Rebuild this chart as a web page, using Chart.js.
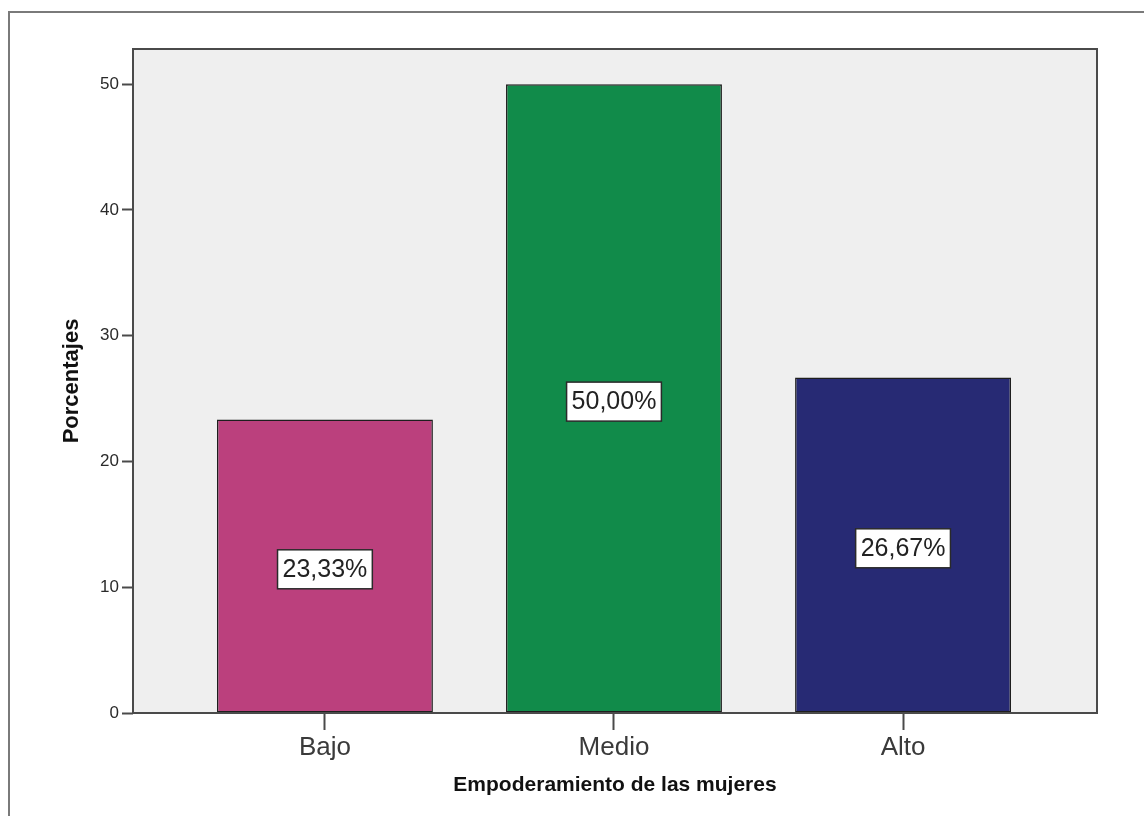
<!DOCTYPE html>
<html>
<head>
<meta charset="utf-8">
<style>
  html, body { margin: 0; padding: 0; background: #ffffff; }
  #wrap { position: relative; width: 1144px; height: 816px; }
  canvas { display: block; }
</style>
<script src="https://cdn.jsdelivr.net/npm/chart.js@4.4.1/dist/chart.umd.min.js"></script>
</head>
<body>
<div id="wrap"><canvas id="chart" width="1144" height="816"></canvas></div>
<script>
// Categories and percentages
const categories = ['Bajo', 'Medio', 'Alto'];
const percentages = [23.33, 50.00, 26.67];
const barColors = ['#bb407d', '#118b4a', '#272a74'];
const yTickValues = [0, 10, 20, 30, 40, 50];
const yAxisMax = 52.8;
const xTitle = 'Empoderamiento de las mujeres';
const yTitle = 'Porcentajes';

const FONT = '"Liberation Sans", Arial, sans-serif';

// Category positions on a numeric axis, with margin either side of the outer bars
const xPositions = categories.map((c, i) => i);
const xAxisMin = -0.664;
const xAxisMax = 2.671;

// Page frame, plot background and plot border
const framePlugin = {
  id: 'frame',
  beforeDraw(chart) {
    const { ctx, chartArea: a } = chart;
    ctx.save();
    ctx.strokeStyle = '#7a7a7a';
    ctx.lineWidth = 2;
    ctx.beginPath();
    ctx.moveTo(9, 816);
    ctx.lineTo(9, 12);
    ctx.lineTo(1144, 12);
    ctx.stroke();
    ctx.fillStyle = '#efefef';
    ctx.fillRect(a.left, a.top, a.right - a.left, a.bottom - a.top);
    ctx.restore();
  },
  afterDatasetsDraw(chart) {
    const { ctx, chartArea: a } = chart;
    ctx.save();
    ctx.strokeStyle = '#4a4a4a';
    ctx.lineWidth = 2;
    ctx.strokeRect(a.left, a.top, a.right - a.left, a.bottom - a.top);
    ctx.restore();
  }
};

// Boxed percentage labels in the middle of each bar
const valueLabelPlugin = {
  id: 'valueLabels',
  afterDatasetsDraw(chart) {
    const { ctx } = chart;
    const meta = chart.getDatasetMeta(0);
    const yScale = chart.scales.y;
    ctx.save();
    ctx.font = '25px ' + FONT;
    ctx.textAlign = 'center';
    ctx.textBaseline = 'middle';
    meta.data.forEach((bar, i) => {
      const v = percentages[i];
      const text = v.toFixed(2).replace('.', ',') + '%';
      const cx = bar.x;
      const cy = yScale.getPixelForValue(v / 2) + 3;
      const w = ctx.measureText(text).width + 10;
      const h = 39;
      ctx.fillStyle = '#ffffff';
      ctx.fillRect(cx - w / 2, cy - h / 2, w, h);
      ctx.strokeStyle = '#2a2a2a';
      ctx.lineWidth = 1.5;
      ctx.strokeRect(cx - w / 2, cy - h / 2, w, h);
      ctx.fillStyle = '#222222';
      ctx.fillText(text, cx, cy + 1);
    });
    ctx.restore();
  }
};

new Chart(document.getElementById('chart'), {
  type: 'bar',
  data: {
    datasets: [{
      data: xPositions.map((x, i) => ({ x: x, y: percentages[i] })),
      backgroundColor: barColors,
      borderColor: '#1e1e1e',
      borderWidth: 1.5,
      borderSkipped: false,
      categoryPercentage: 1.0,
      barPercentage: 0.747
    }]
  },
  options: {
    responsive: false,
    animation: false,
    layout: { padding: { top: 49, right: 47, left: 0, bottom: 0 } },
    plugins: {
      legend: { display: false },
      tooltip: { enabled: false }
    },
    scales: {
      x: {
        type: 'linear',
        min: xAxisMin,
        max: xAxisMax,
        offset: false,
        afterFit(scale) { scale.height = 103; },
        afterBuildTicks(scale) {
          scale.ticks = xPositions.map(v => ({ value: v }));
        },
        grid: {
          offset: false,
          drawOnChartArea: false,
          drawTicks: true,
          tickLength: 17,
          tickWidth: 2,
          tickColor: '#4a4a4a'
        },
        border: { display: false },
        ticks: {
          padding: 2,
          color: '#3a3a3a',
          font: { family: FONT, size: 26 },
          callback: (value) => categories[value]
        },
        title: {
          display: true,
          text: xTitle,
          color: '#111111',
          font: { family: FONT, size: 21, weight: 'bold' },
          padding: { top: 0, bottom: 18 }
        }
      },
      y: {
        min: 0,
        max: yAxisMax,
        afterFit(scale) { scale.width = 133; },
        afterBuildTicks(scale) {
          scale.ticks = yTickValues.map(v => ({ value: v }));
        },
        grid: {
          drawOnChartArea: false,
          drawTicks: true,
          tickLength: 11,
          tickWidth: 2,
          tickColor: '#4a4a4a'
        },
        border: { display: false },
        ticks: {
          padding: 3,
          color: '#2a2a2a',
          font: { family: FONT, size: 17 }
        },
        title: {
          display: true,
          text: yTitle,
          color: '#111111',
          font: { family: FONT, size: 22, weight: 'bold' },
          padding: { top: 59, bottom: 0 }
        }
      }
    }
  },
  plugins: [framePlugin, valueLabelPlugin]
});
</script>
</body>
</html>
